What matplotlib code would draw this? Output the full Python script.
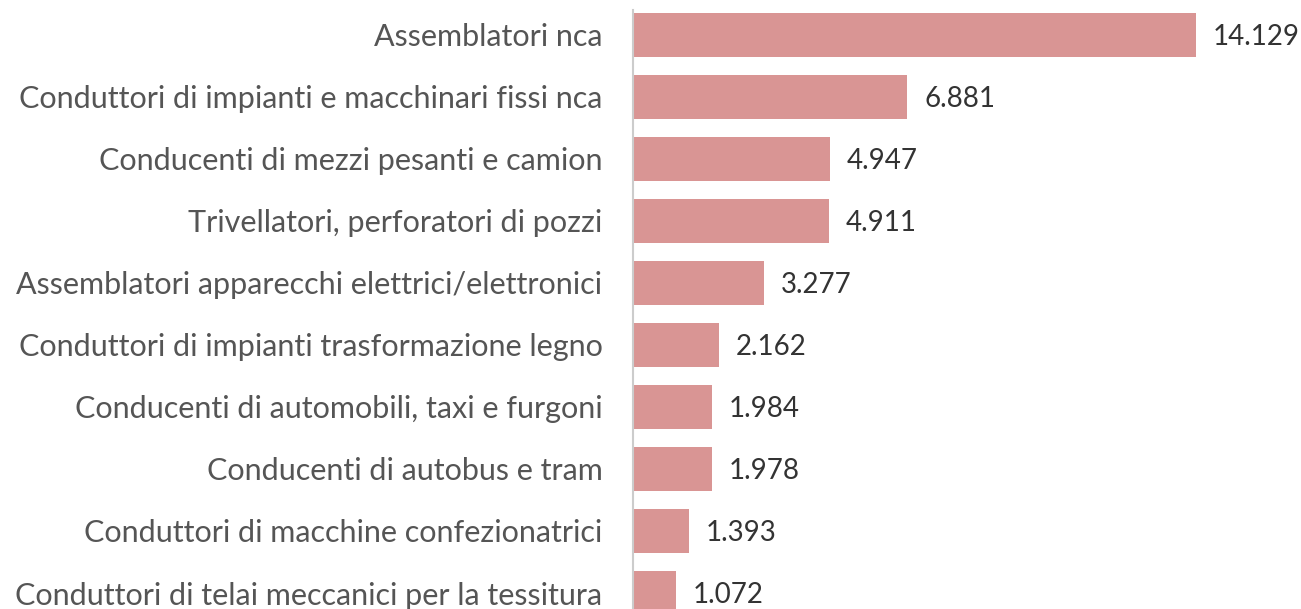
import matplotlib
matplotlib.use("Agg")
import matplotlib.pyplot as plt

categories = [
    "Assemblatori nca",
    "Conduttori di impianti e macchinari fissi nca",
    "Conducenti di mezzi pesanti e camion",
    "Trivellatori, perforatori di pozzi",
    "Assemblatori apparecchi elettrici/elettronici",
    "Conduttori di impianti trasformazione legno",
    "Conducenti di automobili, taxi e furgoni",
    "Conducenti di autobus e tram",
    "Conduttori di macchine confezionatrici",
    "Conduttori di telai meccanici per la tessitura",
]
values = [14129, 6881, 4947, 4911, 3277, 2162, 1984, 1978, 1393, 1072]

plt.rcParams['font.family'] = ['Lato', 'DejaVu Sans']
W, H = 1301, 609
fig = plt.figure(figsize=(W / 100, H / 100), dpi=100)
fig.patch.set_facecolor('white')
ax = fig.add_axes([633 / W, 0, (W - 633) / W, 599 / H])

ypos = list(range(len(categories)))
ax.barh(ypos, values, height=0.71, color='#D99594', edgecolor='none')
ax.set_xlim(0, (W - 633) / (563 / 14129))
ax.set_ylim(9 + 16 / 62, -25 / 62)

for y, v in zip(ypos, values):
    ax.text(v + 17 * 14129 / 563, y + 0.04, f"{v:,}".replace(",", "."),
            va='center', ha='left', fontsize=20, color='#333333')

ax.set_yticks(ypos)
ax.set_yticklabels(categories, fontsize=22, color='#555555')
ax.tick_params(axis='y', length=0, pad=22)
ax.set_xticks([])
for s in ['top', 'right', 'bottom']:
    ax.spines[s].set_visible(False)
ax.spines['left'].set_color('#cccccc')
ax.spines['left'].set_linewidth(1.5)
ax.patch.set_alpha(0)

fig.savefig('out.png', dpi=100, facecolor='white')
